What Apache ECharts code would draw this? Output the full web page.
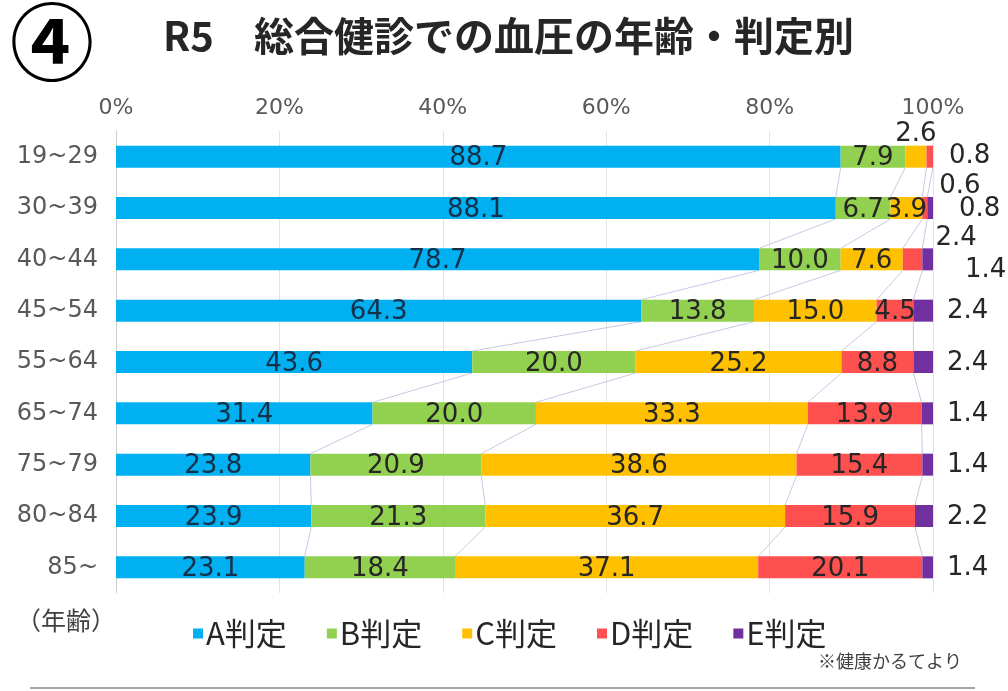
<!DOCTYPE html>
<html>
<head>
<meta charset="utf-8">
<script src="https://cdn.jsdelivr.net/npm/echarts@6/dist/echarts.min.js"></script>
<style>
  html, body { margin: 0; padding: 0; background: #fff; }
  #chart { width: 1008px; height: 691px; }
</style>
</head>
<body>
<div id="chart"></div>
<script>
// 年齢区分
var ages = ['19~29', '30~39', '40~44', '45~54', '55~64', '65~74', '75~79', '80~84', '85~'];
var xTicks = [0, 20, 40, 60, 80, 100];
// 判定別の割合(%)
var judgeA = [88.7, 88.1, 78.7, 64.3, 43.6, 31.4, 23.8, 23.9, 23.1];
var judgeB = [7.9, 6.7, 10.0, 13.8, 20.0, 20.0, 20.9, 21.3, 18.4];
var judgeC = [2.6, 3.9, 7.6, 15.0, 25.2, 33.3, 38.6, 36.7, 37.1];
var judgeD = [0.8, 0.6, 2.4, 4.5, 8.8, 13.9, 15.4, 15.9, 20.1];
var judgeE = [0, 0.8, 1.4, 2.4, 2.4, 1.4, 1.4, 2.2, 1.4];
var names = ['A判定', 'B判定', 'C判定', 'D判定', 'E判定'];
var colors = ['#00b0f0', '#92d050', '#ffc000', '#ff5050', '#7030a0'];

var all = [judgeA, judgeB, judgeC, judgeD, judgeE];
var chart = echarts.init(document.getElementById('chart'));
var barW = 22;
var numFont = 'DejaVu Sans';

// 区分線用の累積値
var cum = [];
var run = ages.map(function () { return 0; });
for (var k = 0; k < 4; k++) {
  run = run.map(function (v, i) { return v + all[k][i]; });
  cum.push(run.slice());
}

// 小さい値のラベル位置
var smallLabels = {
  '2-0': { position: 'top', distance: -2, offset: [0, 0] },
  '3-0': { position: 'right', distance: 16, offset: [0, 0] },
  '3-1': { position: 'right', distance: 12, offset: [0, -22] },
  '4-1': { position: 'right', distance: 26, offset: [0, 1] },
  '3-2': { position: 'right', distance: 13, offset: [0, -21] },
  '4-2': { position: 'right', distance: 32, offset: [0, 11] }
};

function makeData(s) {
  return all[s].map(function (v, i) {
    var item = { value: v };
    var o = smallLabels[s + '-' + i];
    if (s === 4 && !o) o = { position: 'right', distance: 14, offset: [0, 1] };
    if (o) item.label = Object.assign({ show: true }, o);
    return item;
  });
}

var series = names.map(function (n, s) {
  return {
    name: n,
    type: 'bar',
    stack: 'total',
    barWidth: barW,
    z: 3,
    itemStyle: { color: colors[s] },
    label: {
      show: true,
      position: 'inside',
      offset: [0, 2],
      color: s === 0 ? '#16304a' : '#262626',
      fontFamily: numFont,
      fontSize: 26,
      formatter: function (p) { return p.value > 0 ? p.value.toFixed(1) : ''; }
    },
    data: makeData(s)
  };
});

// 系列線
series.push({
  name: 'lines',
  type: 'custom',
  z: 1,
  silent: true,
  data: ages.slice(0, -1).map(function (a, i) { return [0, i]; }),
  renderItem: function (params, api) {
    var i = api.value(1);
    var kids = [];
    for (var k = 0; k < 4; k++) {
      var p1 = api.coord([cum[k][i], i]);
      var p2 = api.coord([cum[k][i + 1], i + 1]);
      kids.push({
        type: 'line',
        shape: { x1: p1[0], y1: p1[1] + barW / 2, x2: p2[0], y2: p2[1] - barW / 2 },
        style: { stroke: '#c6c9e4', lineWidth: 1 }
      });
    }
    return { type: 'group', children: kids };
  }
});

var option = {
  animation: false,
  textStyle: { fontFamily: 'Noto Sans CJK JP' },
  grid: { left: 116, right: 75, top: 131, bottom: 98 },
  xAxis: {
    type: 'value',
    position: 'top',
    min: xTicks[0],
    max: xTicks[xTicks.length - 1],
    interval: 20,
    axisLine: { show: false },
    axisTick: { show: false },
    axisLabel: { color: '#595959', fontFamily: numFont, fontSize: 22, margin: 12, formatter: '{value}%' },
    splitLine: { lineStyle: { color: '#e3e3e3', width: 1 } }
  },
  yAxis: {
    type: 'category',
    inverse: true,
    data: ages,
    axisLine: { lineStyle: { color: '#d0d0d0' } },
    axisTick: { show: false },
    axisLabel: { color: '#595959', fontFamily: numFont, fontSize: 24, margin: 18 }
  },
  legend: {
    data: names,
    left: 188,
    top: 613,
    icon: 'rect',
    itemWidth: 10,
    itemHeight: 10,
    itemGap: 40,
    textStyle: { fontSize: 31, color: '#262626', fontFamily: 'Noto Sans CJK JP', padding: [0, 0, 0, -2] }
  },
  graphic: [
    { type: 'text', left: 10, top: 0, style: { text: '④', font: 'bold 84px "Noto Sans CJK JP"', fill: '#000' } },
    { type: 'text', left: 163, top: 16, style: { text: 'R5　総合健診での血圧の年齢・判定別', font: 'bold 40px "Noto Sans CJK JP"', fill: '#262626' } },
    { type: 'text', left: 16, top: 608, style: { text: '（年齢）', font: '25px "Noto Sans CJK JP"', fill: '#404040' } },
    { type: 'text', left: 818, top: 652, style: { text: '※健康かるてより', font: '18px "Noto Sans CJK JP"', fill: '#404040' } },
    { type: 'line', shape: { x1: 30, y1: 688, x2: 975, y2: 688 }, style: { stroke: '#a6a6a6', lineWidth: 2 } }
  ],
  series: series
};
chart.setOption(option);
</script>
</body>
</html>
